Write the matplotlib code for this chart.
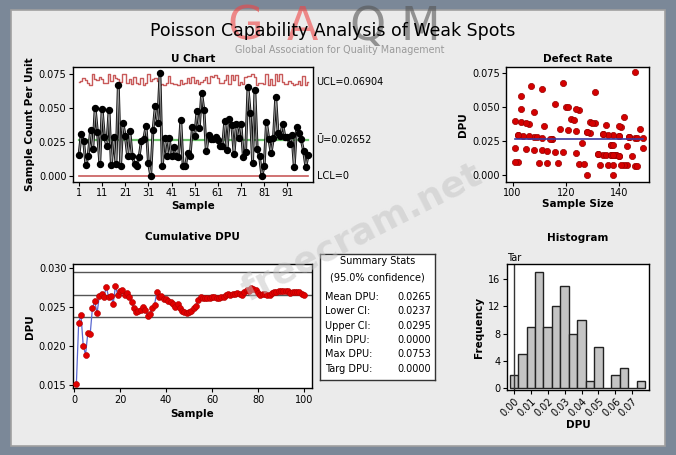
import numpy as np
import matplotlib
matplotlib.use('Agg')
import matplotlib.pyplot as plt
from matplotlib.patches import Rectangle

# ---- data ----
sample_size = [132, 129, 115, 125, 134, 148, 101, 120, 124, 113,
               121, 138, 137, 103, 127, 104, 117, 119, 133, 103,
               102, 135, 121, 139, 110, 136, 140, 115, 146, 135,
               102, 128, 118, 116, 129, 146, 143, 144, 138, 108,
               137, 143, 139, 145, 122, 142, 138, 116, 137, 112,
               136, 125, 141, 131, 124, 111, 134, 109, 111, 106,
               114, 137, 138, 123, 105, 142, 106, 124, 105, 144,
               131, 140, 113, 107, 108, 101, 111, 149, 138, 138,
               141, 101, 147, 119, 144, 103, 128, 102, 130, 140,
               140, 126, 134, 146, 140, 128, 149, 108, 147, 132]
defects = [2, 4, 3, 1, 2, 5, 2, 6, 4, 1,
           6, 4, 3, 5, 1, 3, 1, 8, 1, 4,
           3, 2, 4, 2, 1, 1, 2, 3, 4, 5,
           1, 0, 4, 6, 5, 11, 1, 4, 2, 3,
           2, 3, 2, 2, 5, 1, 1, 2, 2, 4,
           4, 6, 5, 8, 6, 2, 4, 3, 3, 3,
           3, 3, 3, 5, 2, 6, 4, 2, 4, 4,
           5, 2, 2, 7, 5, 1, 7, 3, 2, 0,
           1, 4, 4, 2, 4, 6, 4, 3, 5, 4,
           4, 3, 4, 1, 5, 4, 4, 2, 1, 2]

u_bar = 0.02652
hist_centers = [0.000, 0.005, 0.010, 0.015, 0.020, 0.025, 0.030, 0.035,
                0.040, 0.045, 0.050, 0.055, 0.060, 0.065, 0.070, 0.075]
hist_counts = [2, 5, 9, 17, 9, 12, 15, 8, 10, 1, 6, 0, 2, 3, 0, 1]

stat_labels = ['Mean DPU:', 'Lower CI:', 'Upper CI:', 'Min DPU:', 'Max DPU:', 'Targ DPU:']
stat_values = [0.0265, 0.0237, 0.0295, 0.0000, 0.0753, 0.0000]

W, H = 676, 455


def box(x0, y0, x1, y1):
    # pixel box -> figure fraction [left, bottom, width, height]
    return [x0 / W, 1 - y1 / H, (x1 - x0) / W, (y1 - y0) / H]


def fx(px):
    return px / W


def fy(py):
    return 1 - py / H


n = np.array(sample_size)
d = np.array(defects)
u = d / n
samples = np.arange(1, len(n) + 1)
ucl = u_bar + 3 * np.sqrt(u_bar / n)
cum_dpu = np.cumsum(d) / np.cumsum(n)

plt.rcParams['font.family'] = 'DejaVu Sans'
plt.rcParams['axes.linewidth'] = 1.0

fig = plt.figure(figsize=(W / 100, H / 100), dpi=100, facecolor='#7b8898')
fig.patches.append(Rectangle((fx(11), fy(446)), fx(654), 436 / H, transform=fig.transFigure,
                             facecolor='#ebebeb', edgecolor='#a0a0a0', lw=1.2, zorder=-5))

tick_kw = dict(labelsize=7, length=3, width=0.8, pad=1.5, direction='out')
title_kw = dict(fontsize=7.5, fontweight='bold')
lab_kw = dict(fontsize=7.5, fontweight='bold')

# ---- U chart ----
ax1 = fig.add_axes(box(72.7, 67.3, 313, 181.7))
ax1.step(samples, ucl, where='mid', color='#c85a5a', lw=1.0)
ax1.plot([samples[0], samples[-1]], [0, 0], color='#c85a5a', lw=1.2)
ax1.plot([samples[0], samples[-1]], [u_bar, u_bar], color='#6cc26c', lw=1.6)
ax1.plot(samples, u, color='#111111', lw=2.0)
ax1.plot(samples, u, color='#9a9a9a', lw=0.7)
ax1.plot(samples, u, ls='none', marker='o', ms=4.3, mfc='black', mec='black')
ax1.set_xlim(-1.7, 102.1)
ax1.set_ylim(-0.0042, 0.0799)
ax1.set_xticks(np.arange(1, 101, 10))
ax1.set_yticks([0, 0.025, 0.05, 0.075])
ax1.set_yticklabels(['0.000', '0.025', '0.050', '0.075'])
ax1.tick_params(**tick_kw)
ax1.set_title('U Chart', pad=4, **title_kw)
ax1.set_xlabel('Sample', labelpad=2, **lab_kw)
ax1.set_ylabel('Sample Count Per Unit', labelpad=3, **lab_kw)
ax1.text(1.015, ucl[-1], 'UCL=0.06904', transform=ax1.get_yaxis_transform(), fontsize=7, va='center')
ax1.text(1.015, u_bar, '\u016a=0.02652', transform=ax1.get_yaxis_transform(), fontsize=7, va='center')
ax1.text(1.015, 0, 'LCL=0', transform=ax1.get_yaxis_transform(), fontsize=7, va='center')

# ---- Defect rate ----
ax2 = fig.add_axes(box(506, 67.3, 649.3, 181.7))
ax2.scatter(n, u, s=20, color='#d40000', edgecolors='#990000', linewidths=0.5, zorder=3)
ax2.plot([n.min(), n.max()], [u_bar, u_bar], color='#3a3aa0', lw=1.2, zorder=4)
ax2.set_xlim(97.5, 151.5)
ax2.set_ylim(-0.0049, 0.079)
ax2.set_xticks([100, 120, 140])
ax2.set_yticks([0, 0.025, 0.05, 0.075])
ax2.set_yticklabels(['0.000', '0.025', '0.050', '0.075'])
ax2.tick_params(**tick_kw)
ax2.set_title('Defect Rate', pad=4, **title_kw)
ax2.set_xlabel('Sample Size', labelpad=1, **lab_kw)
ax2.set_ylabel('DPU', labelpad=3, **lab_kw)

# ---- Cumulative DPU ----
ax3 = fig.add_axes(box(72.7, 264, 312.3, 388.3))
for yv in [stat_values[2], stat_values[0], stat_values[1]]:
    ax3.axhline(yv, color='#555555', lw=1.0)
ax3.plot(samples, cum_dpu, color='#5a68d0', lw=0.9, zorder=3)
ax3.plot(samples, cum_dpu, ls='none', marker='o', ms=4.3, mfc='#e00000', mec='#b00000', mew=0.4, zorder=4)
ax3.set_xlim(-0.6, 103.6)
ax3.set_ylim(0.01458, 0.03047)
ax3.set_xticks([0, 20, 40, 60, 80, 100])
ax3.set_yticks([0.015, 0.020, 0.025, 0.030])
ax3.set_yticklabels(['0.015', '0.020', '0.025', '0.030'])
ax3.tick_params(**tick_kw)
ax3.set_title('Cumulative DPU', pad=17, **title_kw)
ax3.set_xlabel('Sample', labelpad=3, **lab_kw)
ax3.set_ylabel('DPU', labelpad=3, **lab_kw)

# ---- Summary stats box ----
axs = fig.add_axes(box(320, 254.3, 435, 380))
axs.set_xticks([])
axs.set_yticks([])
for sp in axs.spines.values():
    sp.set_color('#333333')
    sp.set_linewidth(1.0)
fig.text(fx(377.5), fy(261), 'Summary Stats', fontsize=7, ha='center', va='center')
fig.text(fx(377.5), fy(277), '(95.0% confidence)', fontsize=7, ha='center', va='center')
for i, (lab, val) in enumerate(zip(stat_labels, stat_values)):
    yy = fy(297 + i * 14.3)
    fig.text(fx(325), yy, lab, fontsize=7, ha='left', va='center')
    fig.text(fx(431), yy, '%.4f' % val, fontsize=7, ha='right', va='center')

# ---- Histogram ----
ax4 = fig.add_axes(box(506.7, 264.3, 649.3, 389.7))
ax4.bar(hist_centers, hist_counts, width=0.005, color='#c4c4c4', edgecolor='#222222', lw=1.0)
ax4.axvline(0.0, color='#333333', lw=1.0)
ax4.set_xlim(-0.0042, 0.080)
ax4.set_ylim(-0.2, 18.1)
ax4.set_xticks(np.arange(0, 0.071, 0.01))
ax4.set_xticklabels(['%.2f' % v for v in np.arange(0, 0.071, 0.01)], rotation=45, ha='right',
                    rotation_mode='anchor')
ax4.set_yticks([0, 4, 8, 12, 16])
ax4.tick_params(**tick_kw)
ax4.set_title('Histogram', pad=17, **title_kw)
ax4.text(0.0, 1.01, 'Tar', transform=ax4.get_xaxis_transform(), fontsize=7, ha='center', va='bottom')
ax4.set_xlabel('DPU', labelpad=1, **lab_kw)
ax4.set_ylabel('Frequency', labelpad=3, **lab_kw)

# ---- main title and watermarks ----
for ch, xp, col in [('G', 245, '#f04545'), ('A', 302, '#f04545'), ('Q', 367, '#555555'), ('M', 420, '#555555')]:
    fig.text(fx(xp), fy(40), ch, fontsize=33, ha='center', va='baseline', color=col, alpha=0.6, zorder=1)
fig.text(fx(333), fy(31), 'Poisson Capability Analysis of Weak Spots', fontsize=12.5, ha='center',
         va='center', zorder=2)
fig.text(fx(340), fy(50), 'Global Association for Quality Management', fontsize=6.9,
         ha='center', va='center', color='#9a9a9a')
fig.text(fx(362), fy(232), 'freecram.net', fontsize=26, fontweight='bold', ha='center', va='center',
         color='#c4c4c4', alpha=0.5, rotation=27)

fig.savefig('out.png', dpi=100, facecolor=fig.get_facecolor())
